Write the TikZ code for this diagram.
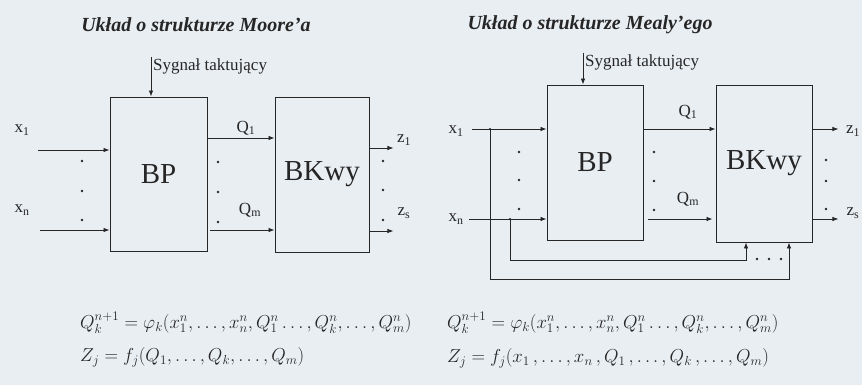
\documentclass[tikz,border=0pt]{standalone}
\usepackage{fix-cm}
\usepackage{amsmath}
\usepackage{fontspec}
\setmainfont{Liberation Serif}
\usetikzlibrary{positioning,arrows.meta,calc}
\definecolor{papier}{HTML}{E9EEF3}
\definecolor{ink}{HTML}{262626}
\tikzset{
  blok/.style  ={draw=ink, line width=0.9pt, inner sep=0pt, text=ink,
                 font=\fontsize{29}{31}\selectfont},
  sygn/.style  ={-{Latex[length=6pt,width=4.5pt]}, line width=0.8pt, draw=ink},
  linia/.style ={line width=0.8pt, draw=ink},
  etyk/.style  ={font=\fontsize{17}{19}\selectfont, text=ink, inner sep=1pt},
  tytul/.style ={font=\fontsize{20}{23}\selectfont\bfseries\itshape, text=ink},
  wzor/.style  ={font=\fontsize{18.75}{22}\selectfont, text=ink, anchor=west, inner sep=0pt},
}
\newcommand{\kropki}[4]{%
  \foreach \yy in {#2,#3,#4}{%
     \fill[ink] (#1,\yy) circle (1.3pt);}}

\begin{document}
\begin{tikzpicture}[x=1pt,y=-1pt]
      \fill[papier] (0,0) rectangle (862,385);
      \useasboundingbox (0,0) rectangle (862,385);
      % uklad Moore'a
      \node[tytul] (tytM) at (196,25) {Układ o strukturze Moore'a};
      \node[blok, minimum width=97pt, minimum height=154pt] (bpL) at (158.5,174) {BP};
      \node[blok, minimum width=94pt, minimum height=155pt] (bkL) at (322,174.5) {BKwy};
      \coordinate (zegL) at (151,57);
      \draw[sygn] (zegL) -- (zegL |- bpL.north);
      \node[etyk, anchor=west] (syL) at (152,66) {Sygnał taktujący};
      \coordinate (x1L) at (38,150);
      \coordinate (xnL) at (40,230);
      \draw[sygn] (x1L) -- (x1L -| bpL.west);
      \draw[sygn] (xnL) -- (xnL -| bpL.west);
      \node[etyk] (lx1L) at (22,130) {x\textsubscript{1}};
      \node[etyk] (lxnL) at (22,210) {x\textsubscript{n}};
      \draw[sygn] (bpL.east |- 0,138) -- (bkL.west |- 0,138);
      \draw[sygn, shorten <=3pt] (bpL.east |- 0,230) -- (bkL.west |- 0,230);
      \node[etyk] (lq1L) at (246,128) {Q\textsubscript{1}};
      \node[etyk] (lqmL) at (250,210) {Q\textsubscript{m}};
      \draw[sygn] (bkL.east |- 0,148) -- ++(24,0) coordinate (z1L);
      \draw[sygn] (bkL.east |- 0,231) -- ++(24,0) coordinate (zsL);
      \node[etyk] (lz1L) at (404,140) {z\textsubscript{1}};
      \node[etyk] (lzsL) at (404,213) {z\textsubscript{s}};
      \kropki{82}{161}{191}{220}
      \kropki{218}{162}{192}{222}
      \kropki{383}{161}{190}{220}
      % uklad Mealy'ego
      \node[tytul] (tytR) at (590,25) {Układ o strukturze Mealy'ego};
      \node[blok, minimum width=96pt, minimum height=155pt] (bpR) at (595,162.5) {BP};
      \node[blok, minimum width=96pt, minimum height=157pt] (bkR) at (764,163.5) {BKwy};
      \coordinate (zegR) at (583,53);
      \draw[sygn] (zegR) -- (zegR |- bpR.north);
      \node[etyk, anchor=west] (syR) at (584,62) {Sygnał taktujący};
      \coordinate (x1R) at (472,129);
      \coordinate (xnR) at (469,219);
      \draw[sygn] (x1R) -- (x1R -| bpR.west);
      \draw[sygn] (xnR) -- (xnR -| bpR.west);
      \node[etyk] (lx1R) at (456,131) {x\textsubscript{1}};
      \node[etyk] (lxnR) at (456,219) {x\textsubscript{n}};
      \draw[sygn] (x1R -| bpR.east) -- (x1R -| bkR.west);
      \draw[sygn, shorten <=5pt, shorten >=3pt] (xnR -| bpR.east) -- (xnR -| bkR.west);
      \node[etyk] (lq1R) at (688,112) {Q\textsubscript{1}};
      \node[etyk] (lqmR) at (688,199) {Q\textsubscript{m}};
      \draw[sygn] (x1R -| bkR.east) -- ++(26,0) coordinate (z1R);
      \draw[sygn] (xnR -| bkR.east) -- ++(26,0) coordinate (zsR);
      \node[etyk] (lz1R) at (853,131) {z\textsubscript{1}};
      \node[etyk] (lzsR) at (853,213) {z\textsubscript{s}};
      \kropki{519}{152}{180}{209}
      \kropki{654}{152}{181}{210}
      \kropki{826}{160}{181}{209}
      % sprzezenie zwrotne
      \coordinate (j1) at (490,129);
      \coordinate (j2) at (510,219);
      \fill[ink] (j1) circle (1.2pt) (j2) circle (1.2pt);
      \draw[sygn] (j2) -- ++(0,41) -| ([xshift=-18pt]bkR.south);
      \draw[sygn] (j1) -- ++(0,150) -| ([xshift=25pt]bkR.south);
      \foreach \xx in {757,769,781}{\fill[ink] (\xx,259) circle (1.4pt);}
      % rownania
      \node[wzor] (rq1) at (80,323)
        {$Q_k^{n+1}=\varphi_k(x_1^n,\ldots,x_n^n,Q_1^n\ldots,Q_k^n,\ldots,Q_m^n)$};
      \node[wzor] (rz1) at (80,357)
        {$Z_j=f_j(Q_1,\ldots,Q_k,\ldots,Q_m)$};
      \node[wzor] (rq2) at (447,323)
        {$Q_k^{n+1}=\varphi_k(x_1^n,\ldots,x_n^n,Q_1^n\ldots,Q_k^n,\ldots,Q_m^n)$};
      \node[wzor] (rz2) at (447,358)
        {$Z_j=f_j(x_1\,,\ldots,x_n\,,Q_1\,,\ldots,Q_k\,,\ldots,Q_m)$};
\end{tikzpicture}
\end{document}
